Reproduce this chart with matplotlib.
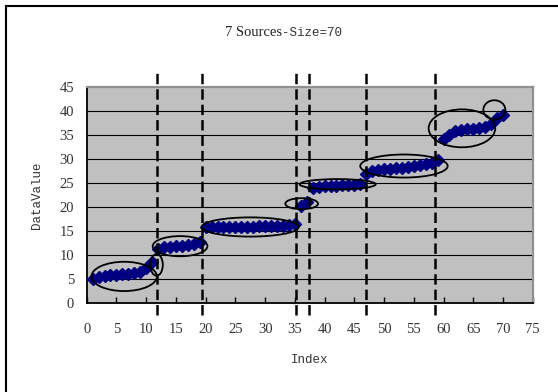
import matplotlib
matplotlib.use("Agg")
import matplotlib.pyplot as plt
from matplotlib.patches import Ellipse
from matplotlib.lines import Line2D

plt.rcParams['lines.scale_dashes'] = False

# ---- data ----
seg1 = [5.0, 5.4, 5.6, 5.8, 6.0, 6.1, 6.2, 6.4, 6.5, 7.4, 8.6]
seg2 = [11.4, 11.7, 11.8, 11.9, 12.0, 12.1, 12.3, 12.7]
seg3 = [15.9, 16.0, 16.0, 16.0, 16.0, 15.9, 16.0, 16.0, 16.0, 16.1, 16.1, 16.1, 16.2, 16.2, 16.3, 16.6]
seg4 = [20.2, 21.2]
seg5 = [24.0, 24.3, 24.4, 24.5, 24.5, 24.6, 24.6, 24.7, 24.8]
seg6 = [27.0, 27.6, 27.8, 27.9, 28.0, 28.1, 28.2, 28.4, 28.6, 28.8, 29.0, 29.3, 29.8]
seg7 = [34.2, 35.0, 35.8, 36.2, 36.3, 36.4, 36.5, 36.8, 37.3, 38.6, 39.2]
values = seg1 + seg2 + seg3 + seg4 + seg5 + seg6 + seg7
index = list(range(1, len(values) + 1))

boundaries = [11.8, 19.45, 35.2, 37.3, 46.9, 58.5]

ell_x = [6.3, 11.75, 15.7, 27.5, 36.15, 42.2, 53.35, 63.1, 68.55]
ell_y = [5.6, 8.0, 11.9, 15.9, 20.75, 24.8, 28.6, 36.45, 40.3]
ell_w = [11.0, 2.1, 9.2, 16.3, 5.5, 12.8, 14.7, 11.2, 3.7]
ell_h = [6.1, 4.5, 4.2, 4.0, 2.3, 2.15, 4.8, 7.9, 4.0]

xticks = list(range(0, 76, 5))
yticks = list(range(0, 46, 5))

title_a = "7 Sources"
title_b = "-Size=70"
xlabel = "Index"
ylabel = "DataValue"

# ---- figure ----
W, H = 558, 392
fig = plt.figure(figsize=(W / 100, H / 100), dpi=100)
fig.patch.set_facecolor('white')

L, R, T, B = 86.7, 532.7, 87.3, 303.3
ax = fig.add_axes([L / W, 1 - B / H, (R - L) / W, (B - T) / H])
ax.set_facecolor('#C0C0C0')
ax.set_xlim(0, 75)
ax.set_ylim(0, 45)

for yv in yticks[1:-1]:
    ax.axhline(yv, color='black', lw=0.8, zorder=1)

ax.plot(index, values, linestyle='none', marker='D', ms=6.0,
        color='#000080', mec='#000080', zorder=3)

for b in boundaries:
    ax.add_line(Line2D([b, b], [-2.5, 48.6], color='black', lw=1.8,
                       linestyle=(0, (7.5, 3.6)), clip_on=False, zorder=4))

for cx, cy, w, h in zip(ell_x, ell_y, ell_w, ell_h):
    ax.add_patch(Ellipse((cx, cy), w, h, fill=False, edgecolor='black',
                         lw=1.3, zorder=5, clip_on=False))

for side in ['top', 'right']:
    ax.spines[side].set_color('#909090')
    ax.spines[side].set_linewidth(1.6)
for side in ['left', 'bottom']:
    ax.spines[side].set_color('black')
    ax.spines[side].set_linewidth(1.3)

ax.set_xticks(xticks)
ax.set_yticks(yticks)
numfont = dict(family='Liberation Serif', size=10.5)
ax.set_xticklabels([str(t) for t in xticks], fontdict=numfont, color='#333333')
ax.set_yticklabels([str(t) for t in yticks], fontdict=numfont, color='#333333')
ax.tick_params(axis='x', direction='in', length=4, width=1, color='black', pad=14)
ax.tick_params(axis='y', length=0, pad=9)

ax.set_xlabel(xlabel, family='Liberation Mono', size=9, color='#333333', labelpad=13)
ax.set_ylabel(ylabel, family='Liberation Mono', size=9, color='#333333', labelpad=12)

# title
fig.text(0.505, 1 - 33 / H, title_a, family='Liberation Serif', size=10.5,
         color='#222222', ha='right', va='center')
fig.text(0.505, 1 - 33 / H, title_b, family='Liberation Mono', size=9,
         color='#333333', ha='left', va='center')

# chart border (left and top visible)
fig.add_artist(Line2D([6 / W, 6 / W], [0, 1 - 6 / H], color='black', lw=1.5,
                      transform=fig.transFigure))
fig.add_artist(Line2D([6 / W, 1], [1 - 6 / H, 1 - 6 / H], color='black', lw=1.5,
                      transform=fig.transFigure))

fig.savefig('out.png', dpi=100)
